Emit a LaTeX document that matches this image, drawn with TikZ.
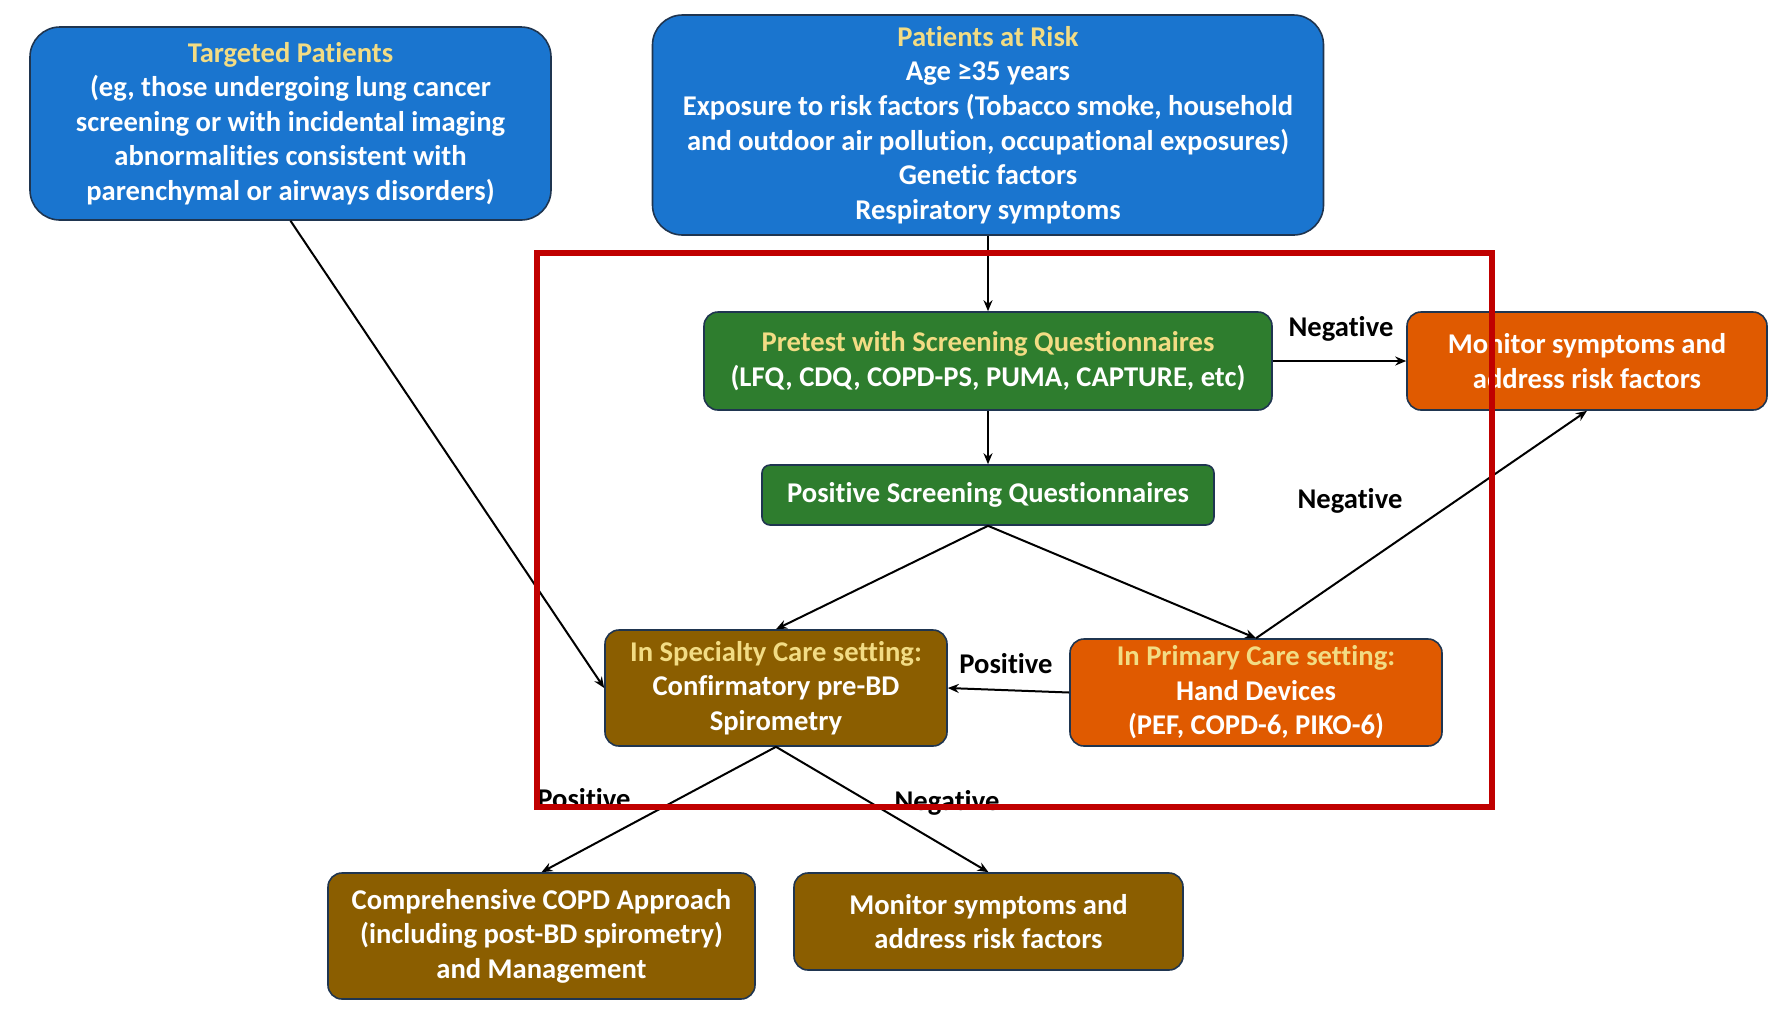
\documentclass[tikz,border=0pt]{standalone}
\usepackage{fontspec}
\setmainfont{Carlito}[Ligatures={NoCommon}]
\usetikzlibrary{arrows.meta}
\definecolor{bblue}{HTML}{1A75CF}
\definecolor{bgreen}{HTML}{2E7D2E}
\definecolor{borange}{HTML}{E05A00}
\definecolor{bbrown}{HTML}{8B5E00}
\definecolor{ytitle}{HTML}{F2DC84}
\definecolor{bord}{HTML}{1F3550}
\definecolor{redframe}{HTML}{C00000}
\begin{document}
\begin{tikzpicture}[x=0.5pt,y=-0.5pt,
  box/.style={draw=bord, line width=0.8pt, align=center, text=white, inner sep=0pt,
    font=\bfseries\fontsize{14.3}{17.3}\selectfont},
  conn/.style={draw=black, line width=1pt, -{Stealth[length=5.5pt,width=4.5pt]}},
  lab/.style={font=\bfseries\fontsize{14.3}{16}\selectfont, text=black, inner sep=0pt}]
\useasboundingbox (0,0) rectangle (1768,1009);

\node[box, fill=bblue, rounded corners=15pt, minimum width=260.5pt, minimum height=96.5pt] (tp) at (290.5,123.5)
  {\textcolor{ytitle}{Targeted Patients}\\(eg, those undergoing lung cancer\\screening or with incidental imaging\\abnormalities consistent with\\parenchymal or airways disorders)};
\node[box, fill=bblue, rounded corners=15pt, minimum width=335.5pt, minimum height=110pt] (risk) at (988,125)
  {\textcolor{ytitle}{Patients at Risk}\\Age ≥35 years\\Exposure to risk factors (Tobacco smoke, household\\and outdoor air pollution, occupational exposures)\\Genetic factors\\Respiratory symptoms};
\node[box, fill=bgreen, rounded corners=7pt, minimum width=284pt, minimum height=49pt] (pre) at (988,361)
  {\textcolor{ytitle}{Pretest with Screening Questionnaires}\\(LFQ, CDQ, COPD-PS, PUMA, CAPTURE, etc)};
\node[box, fill=borange, rounded corners=7pt, minimum width=180pt, minimum height=49pt] (montop) at (1587,361)
  {Monitor symptoms and\\address risk factors};
\node[box, fill=bgreen, rounded corners=4pt, minimum width=226pt, minimum height=30pt] (pos) at (988,495)
  {Positive Screening Questionnaires};
\node[box, fill=bbrown, rounded corners=7pt, minimum width=171pt, minimum height=58pt] (spec) at (776,688)
  {\textcolor{ytitle}{In Specialty Care setting:}\\Confirmatory pre-BD\\Spirometry};
\node[box, fill=borange, rounded corners=7pt, minimum width=186pt, minimum height=53.5pt] (prim) at (1256,692.5)
  {\textcolor{ytitle}{In Primary Care setting:}\\Hand Devices\\(PEF, COPD-6, PIKO-6)};
\node[box, fill=bbrown, rounded corners=7pt, minimum width=213.5pt, minimum height=63pt] (comp) at (541.5,936)
  {Comprehensive COPD Approach\\(including post-BD spirometry)\\and Management};
\node[box, fill=bbrown, rounded corners=7pt, minimum width=194.5pt, minimum height=48.5pt] (monbot) at (988.5,921.5)
  {Monitor symptoms and\\address risk factors};

\draw[conn] (risk.south) -- (pre.north);
\draw[conn] (pre.east) -- (montop.west);
\draw[conn] (pre.south) -- (pos.north);
\draw[conn] (pos.south) -- (spec.north);
\draw[conn] (pos.south) -- (prim.north);
\draw[conn] (prim.north) -- (montop.south);
\draw[conn] (tp.south) -- (spec.west);
\draw[conn] (prim.west) -- (spec.east);
\draw[conn] (spec.south) -- (comp.north);
\draw[conn] (spec.south) -- (monbot.north);

\node[lab] (l1) at (1341,329) {Negative};
\node[lab] (l2) at (1350,501) {Negative};
\node[lab] (l3) at (1006,664) {Positive};
\node[lab] (l4) at (584,799) {Positive};
\node[lab] (l5) at (947,803) {Negative};

\draw[redframe, line width=3pt] (537,253) rectangle (1492,807);
\end{tikzpicture}
\end{document}
